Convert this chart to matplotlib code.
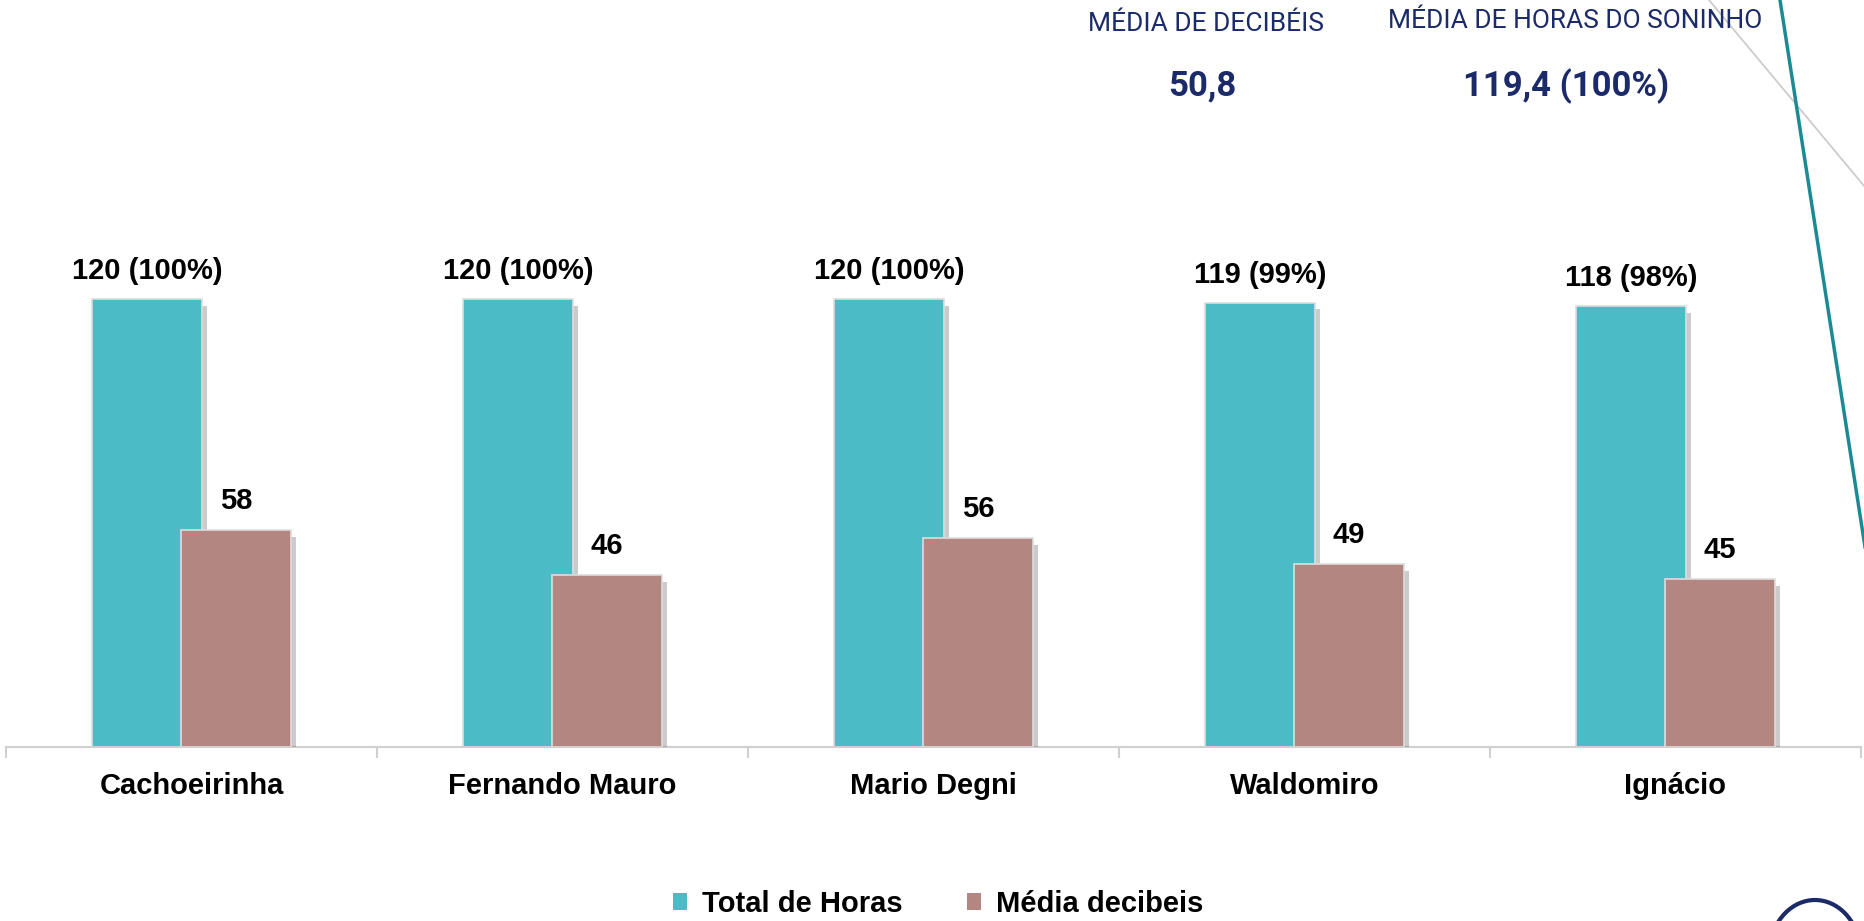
import matplotlib
matplotlib.use("Agg")
import matplotlib.pyplot as plt
import matplotlib.patheffects as pe
from matplotlib.patches import Arc, Patch
from matplotlib.lines import Line2D
import numpy as np

categories = ["Cachoeirinha", "Fernando Mauro", "Mario Degni", "Waldomiro", "Ignácio"]
total_horas = [120, 120, 120, 119, 118]
pct_horas = [100, 100, 100, 99, 98]
media_decibeis = [58, 46, 56, 49, 45]
legend_labels = ["Total de Horas", "Média decibeis"]
kpi_titles = ["MÉDIA DE DECIBÉIS", "MÉDIA DE HORAS DO SONINHO"]
kpi_values = ["50,8", "119,4 (100%)"]

TEAL = "#4BBBC6"
MAUVE = "#B38682"
NAVY = "#1B2A68"

W, H = 1865, 921
fig = plt.figure(figsize=(W / 100, H / 100), dpi=100)
fig.patch.set_facecolor("white")

ax_left, ax_right = 6 / W, 1861 / W
base_y = 747
ymax = 140
px_per_unit = 3.735
top_y = base_y - ymax * px_per_unit
ax = fig.add_axes([ax_left, 1 - base_y / H, ax_right - ax_left, (base_y - top_y) / H])
ax.set_ylim(0, ymax)
ax.set_xlim(-0.5, len(categories) - 0.5)

x = np.arange(len(categories))
bw = 0.294
off = 0.12
shadow = [pe.SimplePatchShadow(offset=(4, -5), shadow_rgbFace="#555555", alpha=0.3), pe.Normal()]
b1 = ax.bar(x - off, total_horas, bw, color=TEAL, edgecolor="#dddddd", linewidth=1.2, zorder=2)
b2 = ax.bar(x + off, media_decibeis, bw, color=MAUVE, edgecolor="#dddddd", linewidth=1.2, zorder=3)
for r in list(b1) + list(b2):
    r.set_path_effects(shadow)

lab_font = dict(family="Liberation Sans", weight="bold", size=21, color="black")
for xi, v, p in zip(x, total_horas, pct_horas):
    ax.annotate(f"{v} ({p}%)", (xi - off, v), xytext=(0, 20), textcoords="offset points",
                ha="center", va="center", **lab_font)
for xi, v in zip(x, media_decibeis):
    ax.annotate(f"{v}", (xi + off, v), xytext=(0, 21), textcoords="offset points",
                ha="center", va="center", **lab_font)

for s in ["top", "right", "left"]:
    ax.spines[s].set_visible(False)
ax.spines["bottom"].set_color("#d0d0d0")
ax.spines["bottom"].set_linewidth(1.5)
ax.set_yticks([])
ax.set_xticks(np.arange(-0.5, len(categories)), minor=False)
ax.set_xticklabels([])
ax.tick_params(axis="x", which="major", length=8, color="#d0d0d0", width=1.5)
ax.set_xticks(x, minor=True)
ax.set_xticklabels(categories, minor=True, **lab_font)
ax.tick_params(axis="x", which="minor", length=0, pad=18)
ax.set_facecolor("none")

handles = [Patch(facecolor=TEAL, edgecolor="none"), Patch(facecolor=MAUVE, edgecolor="none")]
fig.legend(handles=handles, labels=legend_labels, loc="center", bbox_to_anchor=(0.503, 1 - 904 / H),
           ncol=2, frameon=False, prop=dict(family="Liberation Sans", weight="bold", size=21),
           handlelength=0.5, handleheight=0.5, handletextpad=0.5, columnspacing=2.2)

# KPI texts
fig.text(1206 / W, 1 - 24 / H, kpi_titles[0], ha="center", va="center", color=NAVY,
         family="Roboto", size=19)
fig.text(1202 / W, 1 - 86 / H, kpi_values[0], ha="center", va="center", color=NAVY,
         family="Roboto", weight="bold", size=25)
fig.text(1575 / W, 1 - 21 / H, kpi_titles[1], ha="center", va="center", color=NAVY,
         family="Roboto", size=19)
fig.text(1566 / W, 1 - 86 / H, kpi_values[1], ha="center", va="center", color=NAVY,
         family="Roboto", weight="bold", size=25)

# decorative lines
fig.add_artist(Line2D([1709 / W, 1865 / W], [1, 1 - 187 / H], color="#cccccc", linewidth=1.3,
                      transform=fig.transFigure))
fig.add_artist(Line2D([1780 / W, 1865 / W], [1, 1 - 547 / H], color="#1C8A95", linewidth=2.5,
                      transform=fig.transFigure))
fig.add_artist(Arc((1815 / W, 1 - 955 / H), 92 / W, 110 / H, theta1=20, theta2=160,
                   color=NAVY, linewidth=3, transform=fig.transFigure))

fig.savefig("out.png", dpi=100, facecolor="white")
